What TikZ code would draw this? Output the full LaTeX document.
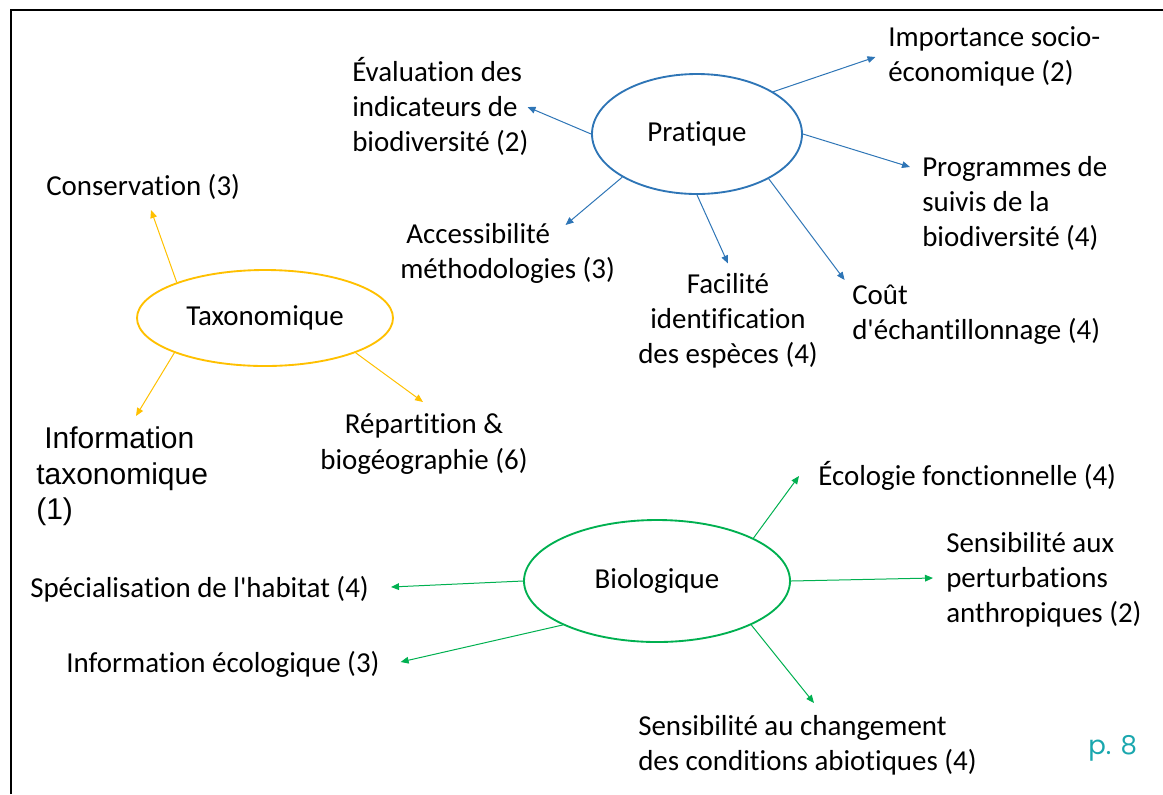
\documentclass[tikz,border=0pt]{standalone}
\usepackage{fontspec}
\setmainfont{Carlito}[Ligatures=NoCommon]
\newfontfamily\arialfont{Liberation Sans}
\newfontfamily\pagefont{Poppins}
\newcommand\sq{{\addfontfeatures{Ligatures=TeXOff}'}}
\usetikzlibrary{shapes.geometric,arrows.meta}
\definecolor{tyellow}{HTML}{FFC000}
\definecolor{pblue}{HTML}{2E75B6}
\definecolor{bgreen}{HTML}{00B050}
\definecolor{pteal}{HTML}{1AA7AE}
\tikzset{
  lbl/.style={font=\fontsize{21.7}{26.3}\selectfont, inner sep=0pt, align=left, anchor=west},
  lblc/.style={font=\fontsize{21.7}{26.3}\selectfont, inner sep=0pt, align=center},
  hub/.style={ellipse, draw, line width=1.4pt, inner sep=0pt, font=\fontsize{21.7}{26.3}\selectfont},
  conn/.style={line width=0.75pt, -{Triangle[length=6pt,width=5pt]}},
}
\begin{document}
\begin{tikzpicture}[x=0.75pt,y=-0.75pt]
\useasboundingbox (0,0) rectangle (1163,794);
% frame
\coordinate (ftl) at (11,10);
\coordinate (ftr) at (1163,10);
\coordinate (fbl) at (11,794);
\draw[line width=1.6pt] (fbl) -- (ftl) -- (ftr);

% hubs
\node[hub, draw=pblue, minimum width=157.5pt, minimum height=90pt] (pr) at (697,134) {\raisebox{-1.5pt}{Pratique}};
\node[hub, draw=tyellow, minimum width=192pt, minimum height=72pt] (tx) at (265,318) {\raisebox{-2pt}{Taxonomique}};
\node[hub, draw=bgreen, minimum width=199.5pt, minimum height=91.5pt] (bi) at (657,581) {\raisebox{-1.5pt}{Biologique}};

% Pratique labels
\node[lbl] (eval) at (352,106.5) {Évaluation des\\indicateurs de\\biodiversité (2)};
\node[lbl] (impo) at (888,56) {Importance socio-\\économique (2)};
\node[lbl] (prog) at (922,203.5) {Programmes de\\suivis de la\\biodiversité (4)};
\node[lbl] (acc) at (400,253.5) {\hspace{4.5pt}Accessibilité\\méthodologies (3)};
\node[lblc] (fac) at (728,320.5) {Facilité\\identification\\des espèces (4)};
\node[lbl] (cout) at (852,315) {Coût\\d\sq échantillonnage (4)};

% Taxonomique labels
\node[lbl] (cons) at (46,187) {Conservation (3)};
\node[lbl, font=\arialfont\fontsize{22.5}{26.6}\selectfont] (itax) at (36,476.5) {\hspace{6pt}Information\\taxonomique\\(1)};
\node[lblc] (rep) at (424,444) {Répartition \&\\biogéographie (6)};

% Biologique labels
\node[lbl] (eco) at (818,476) {Écologie fonctionnelle (4)};
\node[lbl] (sens) at (946,579.5) {Sensibilité aux\\perturbations\\anthropiques (2)};
\node[lbl] (spec) at (30,589) {Spécialisation de l\sq habitat (4)};
\node[lbl] (ieco) at (66,664) {Information écologique (3)};
\node[lbl] (chg) at (638,745) {Sensibilité au changement\\des conditions abiotiques (4)};

\node[anchor=west, inner sep=0pt, text=pteal, font=\pagefont\fontsize{19.5}{22}\selectfont] (page) at (1088,748) {p. 8};

% arrow tips
\coordinate (tEval) at (527.5,107);
\coordinate (tImpo) at (875.5,57);
\coordinate (tProg) at (910,167);
\coordinate (tAcc) at (565.5,225);
\coordinate (tFac) at (728,263.5);
\coordinate (tCout) at (844.6,280);
\coordinate (tCons) at (151,210);
\coordinate (tItax) at (136,416);
\coordinate (tRep) at (423,402);
\coordinate (tEco) at (799,476);
\coordinate (tSens) at (933,578);
\coordinate (tSpec) at (391,587);
\coordinate (tIeco) at (400.6,662);
\coordinate (tChg) at (814,703);

\draw[conn, pblue] (pr.180) -- (tEval);
\draw[conn, pblue] (pr.29.5) -- (tImpo);
\draw[conn, pblue] (pr.0) -- (tProg);
\draw[conn, pblue] (pr.210) -- (tAcc);
\draw[conn, pblue] (pr.270) -- (tFac);
\draw[conn, pblue] (pr.328.6) -- (tCout);

\draw[conn, tyellow] (tx.158.7) -- (tCons);
\draw[conn, tyellow] (tx.201.3) -- (tItax);
\draw[conn, tyellow] (tx.339) -- (tRep);

\draw[conn, bgreen] (bi.24.6) -- (tEco);
\draw[conn, bgreen] (bi.0) -- (tSens);
\draw[conn, bgreen] (bi.180) -- (tSpec);
\draw[conn, bgreen] (bi.205.3) -- (tIeco);
\draw[conn, bgreen] (bi.335.4) -- (tChg);
\end{tikzpicture}
\end{document}
